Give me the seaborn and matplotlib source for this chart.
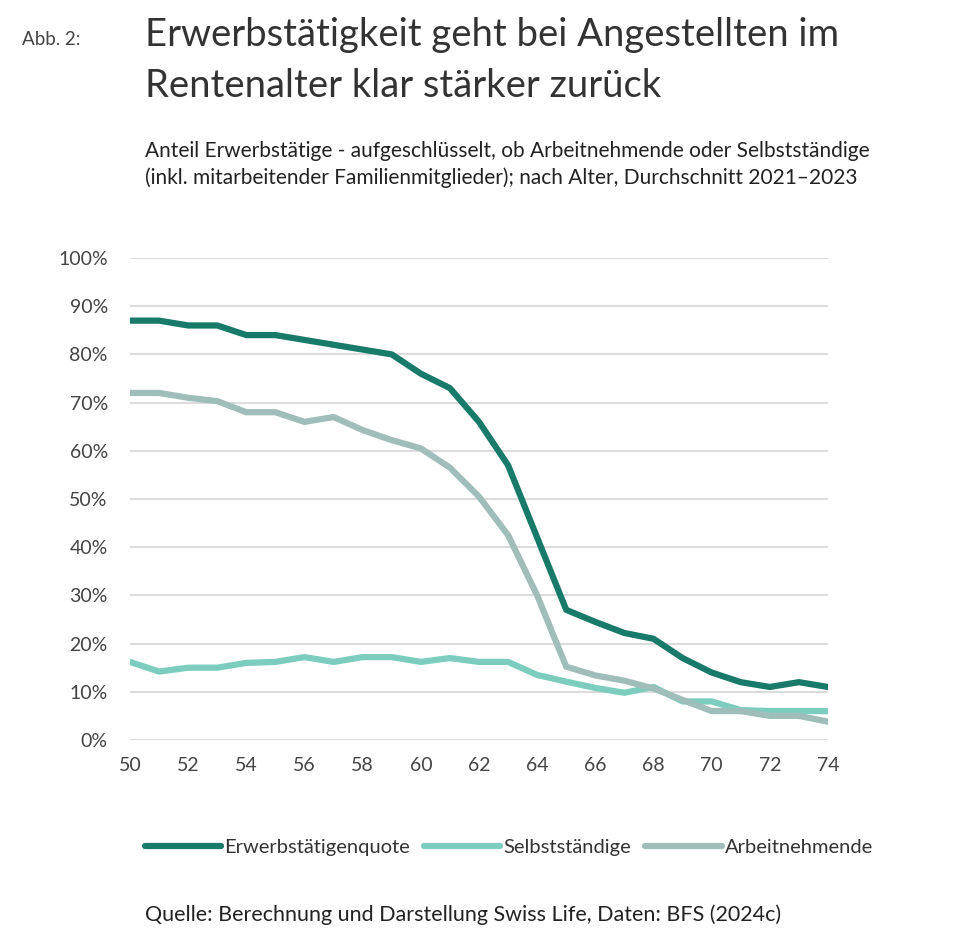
import matplotlib
matplotlib.use("Agg")
import matplotlib.pyplot as plt
import matplotlib.ticker as mticker
import pandas as pd
import seaborn as sns

# Data (share employed, %)
alter = list(range(50, 75))
erwerbstaetigenquote = [87, 87, 86, 86, 84, 84, 83, 82, 81, 80, 76, 73, 66, 57, 42,
                        27, 24.5, 22.2, 21, 17, 14, 12, 11, 12, 11]
selbststaendige = [16.2, 14.2, 15, 15, 16, 16.2, 17.2, 16.2, 17.2, 17.2, 16.2, 17, 16.2,
                   16.2, 13.5, 12.1, 10.8, 9.8, 11, 8, 8, 6.2, 6, 6, 6]
arbeitnehmende = [72, 72, 71, 70.3, 68, 68, 66, 67, 64.3, 62.2, 60.5, 56.5, 50.5, 42.5,
                  30, 15.2, 13.4, 12.3, 10.7, 8.3, 6, 6, 5, 5, 3.8]

serien = ["Erwerbstätigenquote", "Selbstständige", "Arbeitnehmende"]
farben = ["#187a68", "#7ccdbd", "#9fbdb9"]

df = pd.DataFrame({
    "Alter": alter * 3,
    "Anteil": erwerbstaetigenquote + selbststaendige + arbeitnehmende,
    "Serie": [serien[0]] * 25 + [serien[1]] * 25 + [serien[2]] * 25,
})

sns.set_style("white")
plt.rcParams["font.family"] = ["Lato", "DejaVu Sans"]

fig = plt.figure(figsize=(9.6, 9.3), dpi=100)
ax = fig.add_axes([0.1354, 0.2043, 0.7271, 0.5183])

sns.lineplot(data=df, x="Alter", y="Anteil", hue="Serie", hue_order=serien,
             palette=farben, linewidth=4.5, ax=ax, legend=False)
# dark line on top, as in the original
for line in ax.lines:
    if line.get_color() == farben[0]:
        line.set_zorder(5)

ax.set_xlim(50, 74)
ax.set_ylim(0, 100)
ax.set_xticks(range(50, 75, 2))
ax.set_yticks(range(0, 101, 10))
ax.yaxis.set_major_formatter(mticker.FuncFormatter(lambda v, p: f"{v:.0f}%"))
ax.grid(axis="y", color="#dcdcdc", linewidth=1.5)
ax.set_axisbelow(True)
for s in ax.spines.values():
    s.set_visible(False)
ax.tick_params(axis="both", length=0, labelsize=14, colors="#444444")
ax.tick_params(axis="y", pad=16)
ax.tick_params(axis="x", pad=12)
ax.set_xlabel("")
ax.set_ylabel("")

handles = [plt.Line2D([0], [0], color=c, linewidth=4.5) for c in farben]
fig.legend(handles, serien, loc="center", bbox_to_anchor=(0.53, 0.089), ncol=3,
           frameon=False, fontsize=14.5, handlelength=3.8, handletextpad=0.15,
           columnspacing=0.7, labelcolor="#333333")

fig.text(0.023, 0.957, "Abb. 2:", fontsize=13.5, color="#444444", va="center")
fig.text(0.151, 0.962, "Erwerbstätigkeit geht bei Angestellten im", fontsize=27.5,
         color="#333333", va="center")
fig.text(0.151, 0.908, "Rentenalter klar stärker zurück", fontsize=27.5,
         color="#333333", va="center")
fig.text(0.151, 0.838, "Anteil Erwerbstätige - aufgeschlüsselt, ob Arbeitnehmende oder Selbstständige",
         fontsize=15, color="#222222", va="center")
fig.text(0.151, 0.809, "(inkl. mitarbeitender Familienmitglieder); nach Alter, Durchschnitt 2021–2023",
         fontsize=15, color="#222222", va="center")
fig.text(0.151, 0.016, "Quelle: Berechnung und Darstellung Swiss Life, Daten: BFS (2024c)",
         fontsize=15.5, color="#222222", va="center")

fig.savefig("out.png", dpi=100)
